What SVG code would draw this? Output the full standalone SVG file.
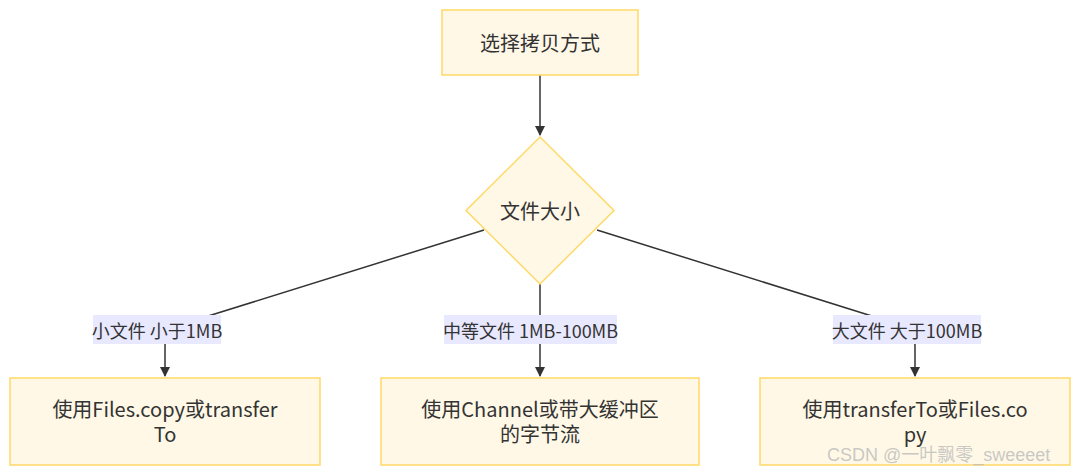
<svg xmlns="http://www.w3.org/2000/svg" width="1080" height="475" viewBox="0 0 1080 475">
<defs>
<marker id="arr" viewBox="0 0 10 10" refX="9" refY="5" markerWidth="10" markerHeight="10" markerUnits="userSpaceOnUse" orient="auto">
<path d="M0,0 L10,5 L0,10 z" fill="#333333"/>
</marker>
<style>
.node{fill:#FFF8E6;stroke:#FFD966;stroke-width:1.5}
.t{font-family:"Noto Sans CJK SC","Noto Sans",sans-serif;font-size:18px;fill:#333333;text-anchor:middle;dominant-baseline:central}
.n{font-size:20px}
.edge{fill:none;stroke:#333333;stroke-width:1.5}
.lbl{fill:#E8E8FF}
.wm{font-family:"Liberation Sans","Noto Sans CJK SC",sans-serif;font-size:18px;fill:#BBBBBB;fill-opacity:0.8;dominant-baseline:central}
</style>
</defs>
<rect width="1080" height="475" fill="#FFFFFF"/>
<g id="connectors">
<path class="edge" d="M540,75 L540,135" marker-end="url(#arr)"/>
<path class="edge" d="M484,230 L205,317 Q165,330 165,345 L165,376" marker-end="url(#arr)"/>
<path class="edge" d="M540,284 L540,376" marker-end="url(#arr)"/>
<path class="edge" d="M597,230 L875,317 Q915,330 915,345 L915,376" marker-end="url(#arr)"/>
</g>
<g id="label-small">
<rect class="lbl" x="93" y="315" width="128" height="29"/>
<text class="t" x="157" y="329.5">小文件 小于1MB</text>
</g>
<g id="label-medium">
<rect class="lbl" x="444" y="315" width="173" height="29"/>
<text class="t" x="530.5" y="329.5">中等文件 1MB-100MB</text>
</g>
<g id="label-large">
<rect class="lbl" x="833" y="315" width="148" height="29"/>
<text class="t" x="907" y="329.5">大文件 大于100MB</text>
</g>
<g id="start">
<rect class="node" x="442" y="10" width="196" height="65"/>
<text class="t n" x="540" y="42.5">选择拷贝方式</text>
</g>
<g id="decision">
<polygon class="node" points="540,137 614,210.5 540,284 466,210.5"/>
<text class="t n" x="540" y="210.5">文件大小</text>
</g>
<g id="small">
<rect class="node" x="10" y="378" width="310" height="87"/>
<text class="t n"><tspan x="165" y="407.5">使用Files.copy或transfer</tspan><tspan x="165" y="432.5">To</tspan></text>
</g>
<g id="medium">
<rect class="node" x="381" y="378" width="318" height="87"/>
<text class="t n"><tspan x="540" y="407.5">使用Channel或带大缓冲区</tspan><tspan x="540" y="432.5">的字节流</tspan></text>
</g>
<g id="large">
<rect class="node" x="760" y="378" width="310" height="87"/>
<text class="t n"><tspan x="915" y="407.5">使用transferTo或Files.co</tspan><tspan x="915" y="432.5">py</tspan></text>
</g>
<text class="wm" x="827" y="455">CSDN @一叶飘零_sweeeet</text>
</svg>
